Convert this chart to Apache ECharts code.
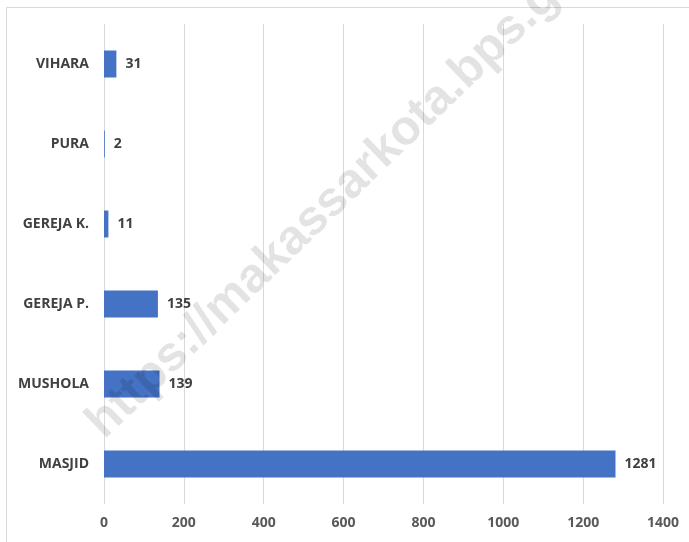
<!DOCTYPE html>
<html>
<head>
<meta charset="utf-8">
<script src="https://cdn.jsdelivr.net/npm/echarts@6/dist/echarts.min.js"></script>
<style>
  html, body { margin: 0; padding: 0; background: #ffffff; }
  #chart { width: 689px; height: 542px; }
</style>
</head>
<body>
<div id="chart"></div>
<script>
// Places of worship, listed bottom to top on the category axis
const categories = ['MASJID', 'MUSHOLA', 'GEREJA P.', 'GEREJA K.', 'PURA', 'VIHARA'];
const counts = [1281, 139, 135, 11, 2, 31];
const xTicks = [0, 200, 400, 600, 800, 1000, 1200, 1400];
const watermarkText = 'https://makassarkota.bps.go.id';

const chart = echarts.init(document.getElementById('chart'), null, { renderer: 'canvas' });

const fontFamily = '"Open Sans", "Noto Sans", "Liberation Sans", sans-serif';

chart.setOption({
  backgroundColor: '#ffffff',
  animation: false,
  grid: { left: 104, right: 26, top: 24, bottom: 38, containLabel: false },
  xAxis: {
    type: 'value',
    min: xTicks[0],
    max: xTicks[xTicks.length - 1],
    interval: xTicks[1] - xTicks[0],
    axisLine: { show: false },
    axisTick: { show: false },
    splitLine: { show: true, lineStyle: { color: '#d9d9d9', width: 1 } },
    axisLabel: {
      color: '#595959', fontSize: 14, fontWeight: 'bold', fontFamily: fontFamily, margin: 12,
      formatter: function (v) { return String(v); }
    }
  },
  yAxis: {
    type: 'category',
    data: categories,
    axisLine: { show: false },
    axisTick: { show: false },
    splitLine: { show: false },
    axisLabel: {
      color: '#404040', fontSize: 14, fontWeight: 'bold', fontFamily: fontFamily, margin: 15
    }
  },
  series: [{
    type: 'bar',
    data: counts,
    barWidth: 27,
    itemStyle: { color: '#4472c4' },
    label: {
      show: true,
      position: 'right',
      distance: 9,
      color: '#404040',
      fontSize: 14,
      fontWeight: 'bold',
      fontFamily: fontFamily
    }
  }],
  graphic: [
    {
      type: 'rect',
      shape: { x: 6.5, y: 7.5, width: 720, height: 600 },
      style: { fill: 'none', stroke: '#d9d9d9', lineWidth: 1 },
      z: 0,
      silent: true
    },
    {
      type: 'text',
      x: 112,
      y: 448,
      rotation: 44 * Math.PI / 180,
      z: 100,
      silent: true,
      style: {
        text: watermarkText,
        fill: 'rgba(0,0,0,0.11)',
        font: 'bold 49px "Liberation Sans", Arial, sans-serif',
        textAlign: 'left',
        textVerticalAlign: 'bottom'
      }
    }
  ]
});
</script>
</body>
</html>
